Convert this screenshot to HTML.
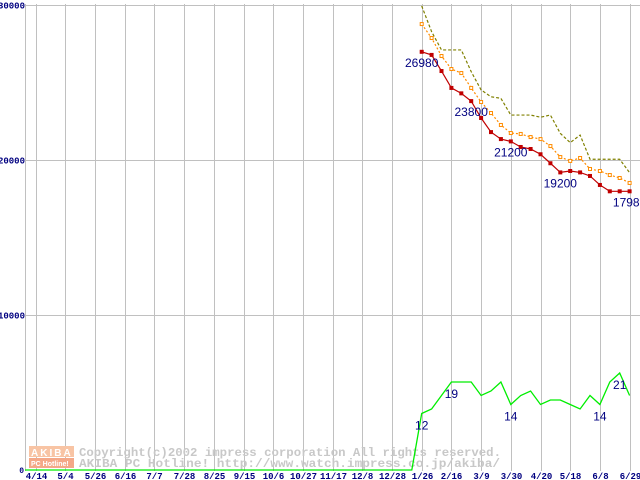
<!DOCTYPE html>
<html><head><meta charset="utf-8"><style>
html,body{margin:0;padding:0;background:#fff;}
svg{display:block;}
.ax{font-family:"Liberation Mono",monospace;font-weight:bold;fill:#000080;}
.lbl{font-family:"Liberation Sans",sans-serif;font-size:12px;fill:#000080;}
.wm{font-family:"Liberation Mono",monospace;font-weight:bold;font-size:11.5px;fill:#c8c8c8;}
</style></head><body>
<svg id="chart" width="640" height="480" viewBox="0 0 640 480" xmlns="http://www.w3.org/2000/svg">
<g id="grid"></g>
<g>
<rect x="29" y="446" width="45" height="11" fill="#f8c4a4"/>
<rect x="29" y="458" width="45" height="10" fill="#f4a888"/>
<text x="31" y="456" font-family="Liberation Sans,sans-serif" font-weight="bold" font-size="10" fill="#fff" letter-spacing="2">AKIBA</text>
<text x="31" y="466" font-family="Liberation Sans,sans-serif" font-weight="bold" font-size="7" fill="#fff">PC Hotline!</text>
<text class="wm" x="79" y="456" textLength="422" lengthAdjust="spacingAndGlyphs">Copyright(c)2002 impress corporation All rights reserved.</text>
<text class="wm" x="79" y="467" textLength="421" lengthAdjust="spacingAndGlyphs">AKIBA PC Hotline!  http://www.watch.impress.co.jp/akiba/</text>
</g>
<g id="series"></g>
<g id="labels"></g>
</svg>
<script>
const xTickLabels=["4/14","5/4","5/26","6/16","7/7","7/28","8/25","9/15","10/6","10/27","11/17","12/8","12/28","1/26","2/16","3/9","3/30","4/20","5/18","6/8","6/29"];
const yTickValues=[0,10000,20000,30000];
const startWeek=39;
const minPrice=[26980,26780,25740,24650,24300,23800,22710,21800,21350,21200,20840,20710,20370,19790,19200,19290,19200,18970,18390,17980,17980,17980];
const avgPrice=[28770,27870,26710,25870,25610,24650,23740,23030,22260,21740,21680,21480,21350,20900,20190,19940,20130,19420,19290,19030,18840,18520];
const maxPrice=[29940,28280,27100,27100,27100,25700,24520,24080,23980,22900,22900,22900,22760,22900,21720,21120,21610,20050,20050,20050,20050,19180];
const shopCount=[12,13,16,19,19,19,16,17,19,14,16,17,14,15,15,14,13,16,14,19,21,16];
const priceLabels=[[0,"26980"],[5,"23800"],[9,"21200"],[14,"19200"],[21,"17980"]];
const countLabels=[[0,"12"],[3,"19"],[9,"14"],[18,"14"],[20,"21"]];

const NS="http://www.w3.org/2000/svg";
const xW=w=>35.6+w*9.9;
const yP=v=>470-v*0.0155;
const yC=v=>467.5-v*4.5;
function mk(tag,attrs,parent){const e=document.createElementNS(NS,tag);for(const k in attrs)e.setAttribute(k,attrs[k]);parent.appendChild(e);return e;}
const grid=document.getElementById('grid'),ser=document.getElementById('series'),lab=document.getElementById('labels');

yTickValues.forEach(v=>{
  const y=yP(v)+0.5;
  if(v>0){const l=mk('line',{x1:25,x2:640,y1:y,y2:y,stroke:'#c0c0c0'},grid);
  
  }
  const t=mk('text',{x:v?25:24,y:v?y+3:473,'text-anchor':'end','font-size':v?9:8,class:'ax'},grid);
  
  
  t.textContent=String(v);
});
{const l=mk('line',{x1:25.5,x2:25.5,y1:4,y2:471,stroke:'#c0c0c0'},grid);

}
xTickLabels.forEach((s,i)=>{
  const x=Math.round(xW(i*3))+0.5;
  const l=mk('line',{x1:x,x2:x,y1:4,y2:471,stroke:'#c0c0c0'},grid);
  
  
  const t=mk('text',{x:x,y:479,'text-anchor':'middle','font-size':9,class:'ax'},grid);
  
  
  t.textContent=s;
});

// green count line incl. zero weeks
let gpts=[[25,470]];
for(let w=0;w<startWeek;w++)gpts.push([xW(w),470]);
shopCount.forEach((v,i)=>gpts.push([xW(startWeek+i),yC(v)]));
{const p=mk('polyline',{points:gpts.map(p=>p.join(',')).join(' '),fill:'none',stroke:'#00ee00','stroke-width':1.3},ser);

}

function pline(arr,color,dash,name){
  const pts=arr.map((v,i)=>xW(startWeek+i)+','+yP(v)).join(' ');
  const p=mk('polyline',{points:pts,fill:'none',stroke:color,'stroke-width':1.2},ser);
  if(dash)p.setAttribute('stroke-dasharray',dash);
  
  
}
pline(maxPrice,'#808000','3,2','max-price-line');
pline(avgPrice,'#ff8c00','2,2','avg-price-line');
pline(minPrice,'#c00000',null,'min-price-line');
avgPrice.forEach((v,i)=>{
  const m=mk('rect',{x:xW(startWeek+i)-1.5,y:yP(v)-1.5,width:3,height:3,fill:'#fff',stroke:'#ff8c00','stroke-width':1},ser);
  
  
});
minPrice.forEach((v,i)=>{
  const m=mk('rect',{x:xW(startWeek+i)-2,y:yP(v)-2,width:4,height:4,fill:'#c00000'},ser);
  
  
});
priceLabels.forEach(([i,s])=>{
  const t=mk('text',{x:xW(startWeek+i),y:yP(minPrice[i])+15,'text-anchor':'middle',class:'lbl'},lab);
  
  
  t.textContent=s;
});
countLabels.forEach(([i,s])=>{
  const t=mk('text',{x:xW(startWeek+i),y:yC(shopCount[i])+16,'text-anchor':'middle',class:'lbl'},lab);
  
  
  t.textContent=s;
});
</script>
</body></html>
